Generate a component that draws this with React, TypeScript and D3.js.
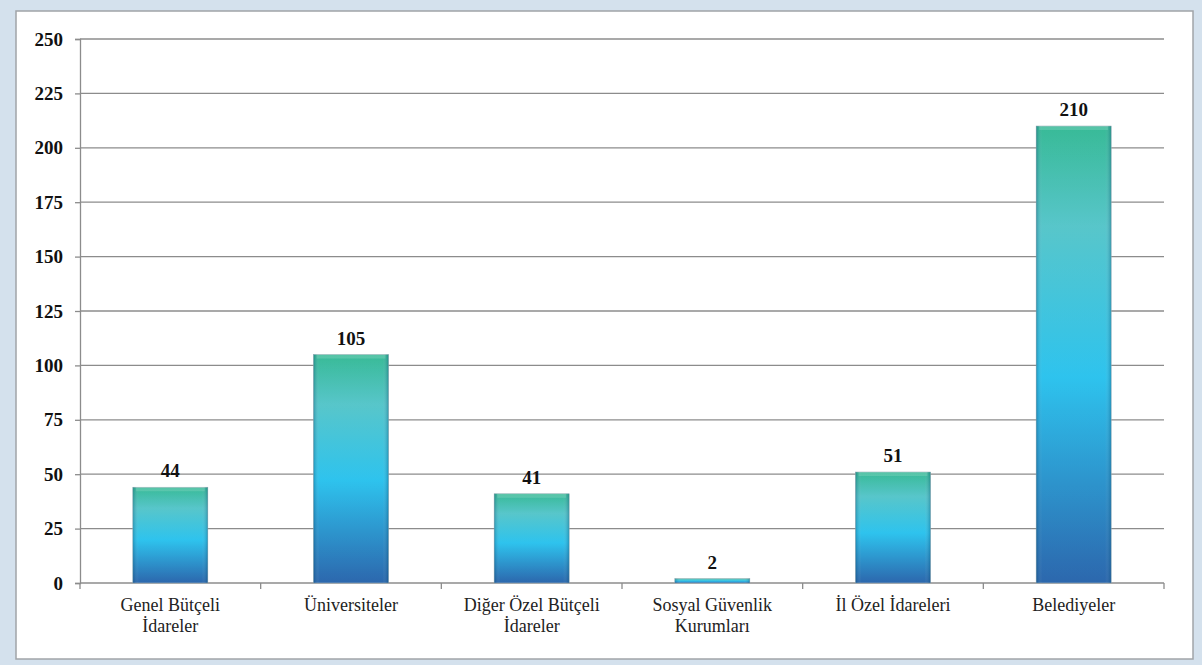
import { useEffect, useRef } from "react";
import * as d3 from "d3";

const categories = [
  ["Genel Bütçeli", "İdareler"],
  ["Üniversiteler"],
  ["Diğer Özel Bütçeli", "İdareler"],
  ["Sosyal Güvenlik", "Kurumları"],
  ["İl Özel İdareleri"],
  ["Belediyeler"],
];
const values = [44, 105, 41, 2, 51, 210];
const yTicks = [0, 25, 50, 75, 100, 125, 150, 175, 200, 225, 250];

const W = 1202;
const H = 665;
const FONT = "'Liberation Serif', 'DejaVu Serif', serif";

export default function App() {
  const svgRef = useRef<SVGSVGElement>(null);

  useEffect(() => {
    if (!svgRef.current) return;
    const svg = d3.select(svgRef.current);
    svg.selectAll("*").remove();

    // Outer frame
    svg.append("rect").attr("width", W).attr("height", H).attr("fill", "#d4e1ed");
    svg.append("rect")
      .attr("x", 16).attr("y", 11)
      .attr("width", 1177).attr("height", 648)
      .attr("fill", "#ffffff")
      .attr("stroke", "#a0a4a8")
      .attr("stroke-width", 1.5);

    const defs = svg.append("defs");
    const grad = defs.append("linearGradient")
      .attr("id", "barGrad").attr("x1", 0).attr("y1", 0).attr("x2", 0).attr("y2", 1);
    grad.append("stop").attr("offset", "0%").attr("stop-color", "#27b48e");
    grad.append("stop").attr("offset", "22%").attr("stop-color", "#49c1c6");
    grad.append("stop").attr("offset", "55%").attr("stop-color", "#1cbeec");
    grad.append("stop").attr("offset", "100%").attr("stop-color", "#1a5aa6");

    const edge = defs.append("linearGradient")
      .attr("id", "edgeGrad").attr("x1", 0).attr("y1", 0).attr("x2", 1).attr("y2", 0);
    edge.append("stop").attr("offset", "0%").attr("stop-color", "#0a4a70").attr("stop-opacity", 0.35);
    edge.append("stop").attr("offset", "8%").attr("stop-color", "#ffffff").attr("stop-opacity", 0.08);
    edge.append("stop").attr("offset", "92%").attr("stop-color", "#ffffff").attr("stop-opacity", 0.08);
    edge.append("stop").attr("offset", "100%").attr("stop-color", "#0a4a70").attr("stop-opacity", 0.35);

    const left = 80, right = 1164, top = 39, bottom = 583;

    const x = d3.scaleBand<number>()
      .domain(d3.range(categories.length))
      .range([left, right])
      .paddingInner(0.585)
      .paddingOuter(0.2925);

    const y = d3.scaleLinear().domain([0, 250]).range([bottom, top]);

    // Gridlines
    svg.append("g")
      .selectAll("line")
      .data(yTicks.filter(d => d > 0))
      .enter()
      .append("line")
      .attr("x1", left).attr("x2", right)
      .attr("y1", d => y(d)).attr("y2", d => y(d))
      .attr("stroke", "#8c8c8c")
      .attr("stroke-width", 1.3);

    // Y axis
    svg.append("g")
      .attr("transform", `translate(${left},0)`)
      .call(d3.axisLeft(y).tickValues(yTicks).tickSize(5).tickPadding(12))
      .call(g => g.attr("font-family", FONT).attr("font-size", 19))
      .call(g => g.select(".domain").attr("stroke", "#8c8c8c").attr("stroke-width", 1.3))
      .call(g => g.selectAll(".tick line").attr("stroke", "#8c8c8c").attr("stroke-width", 1.3))
      .call(g => g.selectAll(".tick text")
        .attr("fill", "#111")
        .attr("font-weight", "bold"));

    // X axis line + ticks at band boundaries
    const step = (right - left) / categories.length;
    svg.append("line")
      .attr("x1", left).attr("x2", right)
      .attr("y1", bottom).attr("y2", bottom)
      .attr("stroke", "#8c8c8c").attr("stroke-width", 1.3);
    svg.append("g")
      .selectAll("line")
      .data(d3.range(categories.length + 1))
      .enter()
      .append("line")
      .attr("x1", i => left + i * step).attr("x2", i => left + i * step)
      .attr("y1", bottom).attr("y2", bottom + 6)
      .attr("stroke", "#8c8c8c").attr("stroke-width", 1.3);

    // Bars
    const bars = svg.append("g");
    values.forEach((v, i) => {
      const bx = x(i)!;
      const bw = x.bandwidth();
      const by = y(v);
      const bh = Math.max(bottom - by, 1.5);
      bars.append("rect")
        .attr("x", bx).attr("y", bottom - bh)
        .attr("width", bw).attr("height", bh)
        .attr("fill", "url(#barGrad)")
        .attr("stroke", "#9ab0b8").attr("stroke-width", 0.6);
      bars.append("rect")
        .attr("x", bx).attr("y", bottom - bh)
        .attr("width", bw).attr("height", bh)
        .attr("fill", "url(#edgeGrad)");
      if (bh > 8) {
        bars.append("rect")
          .attr("x", bx + 3).attr("y", bottom - bh)
          .attr("width", bw - 6).attr("height", 4)
          .attr("fill", "#ffffff").attr("opacity", 0.15);
      }
    });

    // Value labels
    svg.append("g")
      .attr("font-family", FONT)
      .attr("font-weight", "bold")
      .attr("font-size", 19)
      .selectAll("text")
      .data(values)
      .enter()
      .append("text")
      .attr("x", (_, i) => x(i)! + x.bandwidth() / 2)
      .attr("y", d => y(d) - 10)
      .attr("text-anchor", "middle")
      .attr("fill", "#111")
      .text(d => d);

    // Category labels
    const cat = svg.append("g")
      .attr("font-family", FONT)
      .attr("font-size", 18);
    categories.forEach((lines, i) => {
      const t = cat.append("text")
        .attr("x", x(i)! + x.bandwidth() / 2)
        .attr("y", bottom + 28)
        .attr("text-anchor", "middle")
        .attr("fill", "#222");
      lines.forEach((ln, j) => {
        t.append("tspan")
          .attr("x", x(i)! + x.bandwidth() / 2)
          .attr("dy", j === 0 ? 0 : 21)
          .text(ln);
      });
    });
  }, []);

  return (
    <svg
      ref={svgRef}
      width={W}
      height={H}
      style={{ position: "absolute", left: 0, top: 0, display: "block" }}
    />
  );
}
